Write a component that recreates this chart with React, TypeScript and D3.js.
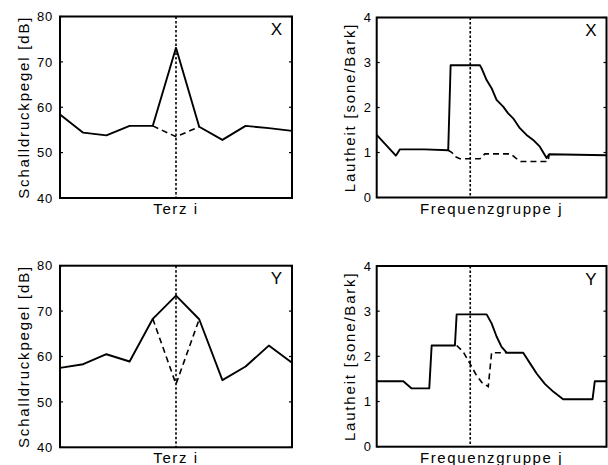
import React, { useRef, useEffect } from "react";
import * as d3 from "d3";

// third-octave bands (left panels)
const terzBands = [1, 2, 3, 4, 5, 6, 7, 8, 9, 10, 11];
const levelX = [58.4, 54.4, 53.8, 55.9, 55.9, 73.1, 55.7, 52.8, 55.9, 55.4, 54.8];
const levelY = [57.5, 58.3, 60.5, 58.9, 68.3, 73.4, 68.2, 54.8, 57.8, 62.4, 58.6];
const toneBands = [5, 6, 7];
const levelXNoTone = [55.9, 53.5, 55.7];
const levelYNoTone = [68.3, 53.9, 68.2];
const levelTicks = [40, 50, 60, 70, 80];
const markerBand = 6;

// specific loudness over critical bands (right panels)
const loudXBark = [0, 2.0, 2.43, 5.0, 7.47, 7.72, 10.78, 10.96, 11.48, 12.0, 12.52, 13.21, 13.73, 14.25, 14.95, 15.65, 16.34, 17.04, 17.74, 18.01, 24];
const loudX = [1.39, 0.93, 1.07, 1.07, 1.05, 2.94, 2.94, 2.87, 2.61, 2.43, 2.17, 2.02, 1.87, 1.76, 1.54, 1.39, 1.28, 1.13, 0.88, 0.96, 0.94];
const loudXNoToneBark = [7.47, 7.86, 8.17, 8.69, 10.78, 11.3, 14.0, 14.5, 15.04, 17.9, 18.01];
const loudXNoTone = [1.05, 1.0, 0.91, 0.86, 0.86, 0.97, 0.97, 0.88, 0.8, 0.8, 0.96];

const loudYBark = [0, 2.78, 3.65, 5.49, 5.74, 8.17, 8.35, 11.48, 12.0, 12.52, 13.04, 13.57, 15.3, 16.0, 16.7, 17.56, 18.43, 19.47, 22.54, 22.78, 24];
const loudY = [1.45, 1.45, 1.29, 1.29, 2.24, 2.24, 2.93, 2.93, 2.73, 2.44, 2.21, 2.08, 2.08, 1.85, 1.62, 1.39, 1.22, 1.05, 1.05, 1.45, 1.45];
const loudYNoToneBark = [8.35, 9.04, 9.74, 10.36, 10.99, 11.65, 12.0, 13.57];
const loudYNoTone = [2.24, 2.1, 1.84, 1.6, 1.42, 1.33, 2.08, 2.08];
const loudTicks = [0, 1, 2, 3, 4];
const markerBark = 9.77;

const FONT = "'Liberation Sans', Arial, Helvetica, sans-serif";

type Panel = {
  left: number; right: number; top: number; bottom: number;
  xDomain: [number, number]; yDomain: [number, number];
  xs: number[]; ys: number[]; dxs: number[]; dys: number[];
  ticks: number[]; marker: number;
  yTitle: string; xTitle: string; tag: string;
  labelGap: number; titleX: number;
};

const panels: Panel[] = [
  { left: 60, right: 292, top: 16.5, bottom: 198, xDomain: [1, 11], yDomain: [40, 80],
    xs: terzBands, ys: levelX, dxs: toneBands, dys: levelXNoTone, ticks: levelTicks, marker: markerBand,
    yTitle: "Schalldruckpegel [dB]", xTitle: "Terz i", tag: "X", labelGap: 7, titleX: 28.5 },
  { left: 376.7, right: 606.5, top: 17.5, bottom: 197.5, xDomain: [0, 24], yDomain: [0, 4],
    xs: loudXBark, ys: loudX, dxs: loudXNoToneBark, dys: loudXNoTone, ticks: loudTicks, marker: markerBark,
    yTitle: "Lautheit [sone/Bark]", xTitle: "Frequenzgruppe j", tag: "X", labelGap: 5, titleX: 355 },
  { left: 60, right: 292, top: 265.7, bottom: 447.3, xDomain: [1, 11], yDomain: [40, 80],
    xs: terzBands, ys: levelY, dxs: toneBands, dys: levelYNoTone, ticks: levelTicks, marker: markerBand,
    yTitle: "Schalldruckpegel [dB]", xTitle: "Terz i", tag: "Y", labelGap: 7, titleX: 28.5 },
  { left: 376.7, right: 606.5, top: 266, bottom: 446.7, xDomain: [0, 24], yDomain: [0, 4],
    xs: loudYBark, ys: loudY, dxs: loudYNoToneBark, dys: loudYNoTone, ticks: loudTicks, marker: markerBark,
    yTitle: "Lautheit [sone/Bark]", xTitle: "Frequenzgruppe j", tag: "Y", labelGap: 5, titleX: 355 },
];

export default function App() {
  const svgRef = useRef<SVGSVGElement>(null);

  useEffect(() => {
    const svg = d3.select(svgRef.current);
    svg.selectAll("*").remove();

    panels.forEach((p) => {
      const x = d3.scaleLinear().domain(p.xDomain).range([p.left, p.right]);
      const y = d3.scaleLinear().domain(p.yDomain).range([p.bottom, p.top]);
      const g = svg.append("g");
      const path = d3.line<[number, number]>().x((d) => x(d[0])).y((d) => y(d[1]));

      // marker line
      g.append("line")
        .attr("x1", x(p.marker)).attr("x2", x(p.marker))
        .attr("y1", p.top).attr("y2", p.bottom)
        .attr("stroke", "#000").attr("stroke-width", 1.6)
        .attr("stroke-dasharray", "2.5,2");

      // without tone (dashed)
      g.append("path")
        .attr("d", path(p.dxs.map((v, i) => [v, p.dys[i]] as [number, number])))
        .attr("fill", "none").attr("stroke", "#000").attr("stroke-width", 1.6)
        .attr("stroke-dasharray", "6,4");

      // with tone (solid)
      g.append("path")
        .attr("d", path(p.xs.map((v, i) => [v, p.ys[i]] as [number, number])))
        .attr("fill", "none").attr("stroke", "#000").attr("stroke-width", 1.9)
        .attr("stroke-linejoin", "round");

      // frame
      g.append("rect")
        .attr("x", p.left).attr("y", p.top)
        .attr("width", p.right - p.left).attr("height", p.bottom - p.top)
        .attr("fill", "none").attr("stroke", "#000").attr("stroke-width", 2);

      // ticks, inward on both sides
      p.ticks.forEach((t) => {
        g.append("line").attr("x1", p.left).attr("x2", p.left + 3)
          .attr("y1", y(t)).attr("y2", y(t)).attr("stroke", "#000").attr("stroke-width", 1.2);
        g.append("line").attr("x1", p.right).attr("x2", p.right - 3)
          .attr("y1", y(t)).attr("y2", y(t)).attr("stroke", "#000").attr("stroke-width", 1.2);
        g.append("text")
          .attr("x", p.left - p.labelGap).attr("y", y(t) + 4.7)
          .attr("text-anchor", "end")
          .style("font-family", FONT).style("font-size", "13px")
          .style("letter-spacing", "0.8px")
          .text(t);
      });

      // tag
      g.append("text")
        .attr("x", p.right - 10).attr("y", p.top + 18.5)
        .attr("text-anchor", "end")
        .style("font-family", FONT).style("font-size", "17px")
        .style("font-weight", "300")
        .text(p.tag);

      // titles
      g.append("text")
        .attr("x", (p.left + p.right) / 2).attr("y", p.bottom + 16)
        .attr("text-anchor", "middle")
        .style("font-family", FONT).style("font-size", "15px")
        .style("letter-spacing", "1.6px")
        .text(p.xTitle);

      g.append("text")
        .attr("transform", `translate(${p.titleX},${(p.top + p.bottom) / 2}) rotate(-90)`)
        .attr("text-anchor", "middle")
        .style("font-family", FONT).style("font-size", "15px")
        .style("letter-spacing", "1.8px")
        .text(p.yTitle);
    });
  }, []);

  return (
    <svg
      ref={svgRef}
      width={608}
      height={465}
      style={{ position: "absolute", left: 0, top: 0, background: "#fff" }}
    />
  );
}
